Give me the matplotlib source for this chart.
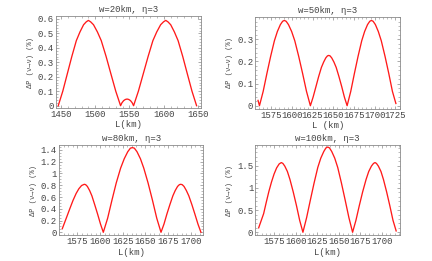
import matplotlib
matplotlib.use("Agg")
import matplotlib.pyplot as plt
from matplotlib.ticker import FuncFormatter

# w = 20 km
L_20 = [1446, 1452.6, 1459.2, 1465.8, 1472.4, 1477.7, 1483, 1486.9, 1490,
        1493.3, 1497.5, 1503.2, 1508.8, 1515.9, 1522.9, 1530, 1537,
        1539, 1541.5, 1544, 1546.5, 1549, 1551.5, 1554, 1556,
        1563, 1570.1, 1577.2, 1584.2, 1589.8, 1595.5, 1599.7, 1603,
        1606.2, 1610.2, 1615.6, 1621, 1627.8, 1634.5, 1641.3, 1648]
dp_20 = [0, 0.10, 0.22, 0.34, 0.45, 0.51, 0.56, 0.58, 0.59,
         0.58, 0.56, 0.51, 0.45, 0.34, 0.22, 0.10, 0,
         0.02, 0.035, 0.043, 0.046, 0.043, 0.035, 0.02, 0,
         0.10, 0.22, 0.34, 0.45, 0.51, 0.56, 0.58, 0.59,
         0.58, 0.56, 0.51, 0.45, 0.34, 0.22, 0.10, 0]

# w = 50 km
L_50 = [1559.3, 1561, 1565.5, 1570, 1574.5, 1579, 1582.6, 1586.2, 1588.9, 1591,
        1593.2, 1596, 1599.8, 1603.6, 1608.3, 1613, 1617.7, 1622.4,
        1625.7, 1629.1, 1632.4, 1635.7, 1638.4, 1641, 1643, 1644.6,
        1646.1, 1648.1, 1650.8, 1653.5, 1656.8, 1660.2, 1663.4, 1666.7,
        1671.1, 1675.5, 1679.9, 1684.3, 1687.8, 1691.3, 1694, 1696,
        1698.1, 1700.8, 1704.3, 1707.9, 1712.4, 1716.9, 1721.3, 1725.5]
dp_50 = [0.024, 0, 0.065, 0.146, 0.223, 0.293, 0.335, 0.366, 0.381, 0.385,
         0.381, 0.366, 0.335, 0.293, 0.223, 0.146, 0.065, 0,
         0.039, 0.086, 0.132, 0.173, 0.197, 0.216, 0.225, 0.227,
         0.225, 0.216, 0.197, 0.173, 0.132, 0.086, 0.039, 0,
         0.065, 0.146, 0.223, 0.293, 0.335, 0.366, 0.381, 0.385,
         0.381, 0.366, 0.335, 0.293, 0.223, 0.146, 0.065, 0.01]

# w = 80 km
L_80 = [1558.2, 1563.1, 1566.5, 1570, 1573.5, 1576.5, 1579.5, 1582.5,
        1584, 1585.9, 1588.4, 1590.9, 1594, 1597.2, 1600.4, 1603.5,
        1608.3, 1613.1, 1617.8, 1622.6, 1626.6, 1630.5, 1633.4, 1635.6,
        1637.8, 1640.7, 1644.5, 1648.2, 1652.9, 1657.7, 1662.5, 1667.2,
        1670.5, 1673.7, 1677, 1680.3, 1682.9, 1685.5, 1687.5, 1689,
        1690.6, 1692.6, 1695.2, 1697.9, 1701.3, 1704.6, 1708, 1711.3]
dp_80 = [0.06, 0.26, 0.40, 0.54, 0.66, 0.74, 0.795, 0.816,
         0.81, 0.78, 0.71, 0.62, 0.47, 0.31, 0.14, 0,
         0.24, 0.55, 0.84, 1.09, 1.25, 1.37, 1.43, 1.44,
         1.43, 1.37, 1.25, 1.09, 0.84, 0.55, 0.24, 0,
         0.14, 0.31, 0.47, 0.62, 0.71, 0.78, 0.81, 0.816,
         0.81, 0.78, 0.71, 0.62, 0.47, 0.31, 0.14, 0]

# w = 100 km
L_100 = [1556.6, 1562.4, 1565.5, 1568.5, 1571.5, 1574.5, 1577.5, 1580.5, 1583,
         1584.8, 1587, 1590, 1593, 1596.8, 1600.6, 1604.3, 1608.1,
         1612.4, 1616.8, 1621.1, 1625.4, 1628.9, 1632.4, 1634.9, 1637,
         1639, 1641.6, 1645.1, 1648.6, 1652.9, 1657.2, 1661.6, 1665.9,
         1669.8, 1673.7, 1677.6, 1681.6, 1684.7, 1687.8, 1690.2, 1692,
         1693.7, 1695.9, 1698.9, 1701.8, 1705.5, 1709.2, 1712.9, 1716.6]
dp_100 = [0.10, 0.42, 0.68, 0.92, 1.13, 1.31, 1.45, 1.54, 1.57,
          1.55, 1.49, 1.37, 1.19, 0.91, 0.60, 0.27, 0,
          0.33, 0.73, 1.11, 1.46, 1.67, 1.82, 1.90, 1.92,
          1.90, 1.82, 1.67, 1.46, 1.11, 0.73, 0.33, 0,
          0.27, 0.60, 0.91, 1.19, 1.37, 1.49, 1.55, 1.57,
          1.55, 1.49, 1.37, 1.19, 0.91, 0.60, 0.27, 0.03]

titles = ["w=20km, η=3", "w=50km, η=3", "w=80km, η=3", "w=100km, η=3"]
xlabels = ["L(km)", "L (km)", "L(km)", "L(km)"]
xticks = [[1450, 1500, 1550, 1600, 1650],
          [1575, 1600, 1625, 1650, 1675, 1700, 1725],
          [1575, 1600, 1625, 1650, 1675, 1700],
          [1575, 1600, 1625, 1650, 1675, 1700]]
yticks = [[0, 0.1, 0.2, 0.3, 0.4, 0.5, 0.6],
          [0, 0.1, 0.2, 0.3],
          [0, 0.2, 0.4, 0.6, 0.8, 1, 1.2, 1.4],
          [0, 0.5, 1, 1.5]]

plt.rcParams['font.family'] = ['Liberation Mono', 'DejaVu Sans']
frame_c = '#8a8a8a'
text_c = '#444444'

fig = plt.figure(figsize=(4.32, 2.61), dpi=100)
rects = [[0.1296, 0.5862, 0.3356, 0.3506],
         [0.591, 0.5835, 0.335, 0.351],
         [0.1366, 0.0985, 0.334, 0.345],
         [0.591, 0.0985, 0.334, 0.345]]
xlims = [(1442.7, 1654.4), (1556, 1730.5), (1554.6, 1713.9), (1552.7, 1720.6)]
ylims = [(-0.016, 0.617), (-0.0135, 0.4), (-0.051, 1.48), (-0.068, 1.96)]
data = [(L_20, dp_20), (L_50, dp_50), (L_80, dp_80), (L_100, dp_100)]

fmt = FuncFormatter(lambda v, p: "%g" % v)
for i in range(4):
    ax = fig.add_axes(rects[i])
    ax.plot(data[i][0], data[i][1], color='#ff1a1a', lw=0.95)
    ax.set_xlim(*xlims[i])
    ax.set_ylim(*ylims[i])
    ax.set_xticks(xticks[i])
    ax.set_yticks(yticks[i])
    ax.yaxis.set_major_formatter(fmt)
    ax.minorticks_on()
    ax.tick_params(which='both', direction='in', top=True, right=True,
                   colors=frame_c, labelcolor=text_c, labelsize=6.5, pad=1.5)
    ax.tick_params(which='major', length=2.5, width=0.5)
    ax.tick_params(which='minor', length=1.2, width=0.4)
    for s in ax.spines.values():
        s.set_color(frame_c)
        s.set_linewidth(0.6)
    ax.set_title(titles[i], fontsize=6.5, color=text_c, pad=3)
    ax.set_xlabel(xlabels[i], fontsize=6.5, color=text_c, labelpad=1)
    ax.set_ylabel("ΔP (ν→ν) (%)", fontsize=5, color=text_c, labelpad=3)

fig.savefig("out.png", dpi=100)
